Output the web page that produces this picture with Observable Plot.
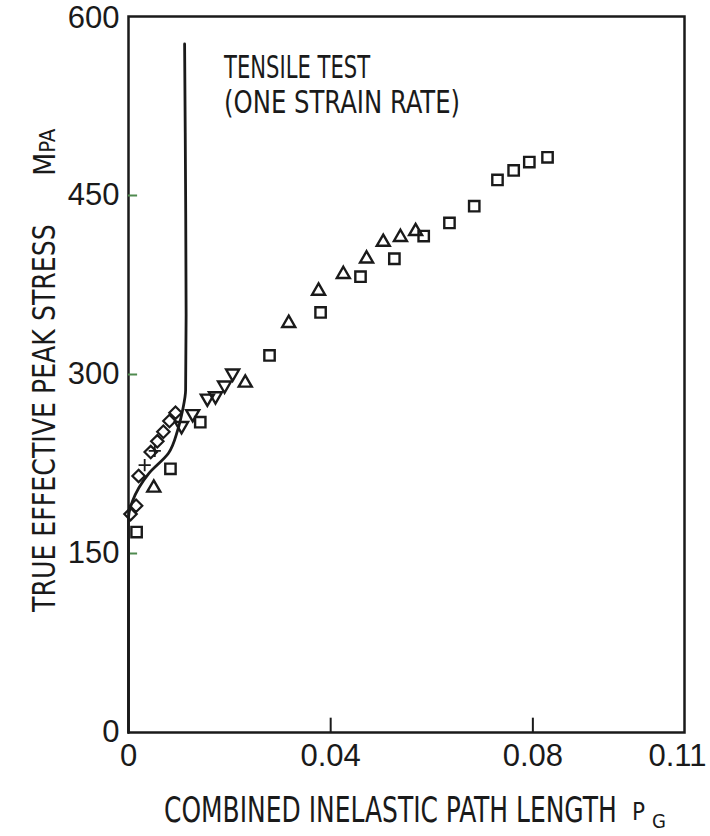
<!DOCTYPE html>
<html><head><meta charset="utf-8">
<script src="https://cdn.jsdelivr.net/npm/d3@7"></script>
<script src="https://cdn.jsdelivr.net/npm/@observablehq/plot@0.6"></script>
<style>body{margin:0;background:#fff}</style>
</head><body><div id="chart"></div>
<script>
// ---- data ----
const squares = [[0.0016,168],[0.0083,221],[0.0142,260],[0.0279,316],[0.038,352],[0.0459,382],[0.0526,397],[0.0584,416],[0.0635,427],[0.0684,441],[0.073,463],[0.0762,471],[0.0793,478],[0.0829,482]];
const triUp = [[0.005,205],[0.0231,293],[0.0317,343],[0.0376,370],[0.0425,384],[0.0471,397],[0.0504,411],[0.0538,415],[0.0568,420]];
const triDown = [[0.0105,257],[0.0127,267],[0.0156,280],[0.0172,282],[0.019,291],[0.0206,301]];
const diamonds = [[0.0004,183],[0.0015,190],[0.002,215],[0.0044,235],[0.0057,244],[0.0069,252],[0.0081,261],[0.0093,268]];
const pluses = [[0.0032,224],[0.0052,236]];
const tensile = [[0,0],[0,180],[0.0008,194],[0.004,217],[0.0079,234],[0.0097,253],[0.0107,270],[0.0113,287],[0.0114,350],[0.0113,450],[0.0111,577]];
const xTicks = [0,0.04,0.08,0.11];
const xTickLabels = ["0","0.04","0.08","0.11"];
const yTicks = [0,150,300,450,600];
const yInner = [150,300,450];
const xInner = [0.04,0.08];
const notes = [["TENSILE TEST",557],["(ONE STRAIN RATE)",528]];

const X = d => d[0], Y = d => d[1];
const ink = "#1a1a1a";
const chart = Plot.plot({
  width: 710, height: 836,
  marginLeft: 128, marginRight: 26, marginTop: 16, marginBottom: 104,
  x: {domain: [0, 0.11], label: null},
  y: {domain: [0, 600], label: null},
  style: {fontFamily: "'Liberation Sans', Arial, sans-serif", color: ink, background: "#fff"},
  marks: [
    Plot.frame({stroke: ink, strokeWidth: 2.5}),
    Plot.axisY(yTicks, {tickSize: 0, tickPadding: 9, fontSize: 31, tickFormat: d => String(d)}),
    Plot.axisX(xTicks, {tickSize: 0, tickPadding: 11, fontSize: 31, tickFormat: d => xTickLabels[xTicks.indexOf(d)]}),
    Plot.ruleY(yInner, {x1: 0, x2: 0.0018, stroke: "#4f8a4f", strokeWidth: 2}),
    Plot.ruleX(xInner, {y1: 0, y2: 12, stroke: ink, strokeWidth: 2}),
    Plot.line(tensile, {x: X, y: Y, stroke: ink, strokeWidth: 2.8, curve: "monotone-y"}),
    Plot.dot(squares, {x: X, y: Y, symbol: "square2", r: 6.6, stroke: ink, strokeWidth: 2.4}),
    Plot.dot(triUp, {x: X, y: Y, symbol: "triangle2", r: 6.2, stroke: ink, strokeWidth: 2.4}),
    Plot.dot(triDown, {x: X, y: Y, symbol: "triangle2", r: 6.2, rotate: 180, stroke: ink, strokeWidth: 2.4}),
    Plot.dot(diamonds, {x: X, y: Y, symbol: "diamond2", r: 5.6, stroke: ink, strokeWidth: 2.2}),
    Plot.dot(pluses, {x: X, y: Y, symbol: "plus", r: 4, stroke: ink, strokeWidth: 1.8}),
    Plot.text(notes, {x: () => 0.0189, y: d => d[1], text: d => d[0], textAnchor: "start", fontSize: 32,
      fontFamily: "'Liberation Sans Narrow', 'DejaVu Sans Condensed', sans-serif", fill: ink})
  ]
});
document.getElementById("chart").appendChild(chart);

const svg = d3.select(chart);
const narrow = "'Liberation Sans Narrow', 'DejaVu Sans Condensed', sans-serif";
svg.selectAll("text").filter(function(){ return this.textContent.startsWith("TENSILE"); })
  .attr("textLength", 146).attr("lengthAdjust", "spacingAndGlyphs");
svg.selectAll("text").filter(function(){ return this.textContent.startsWith("(ONE"); })
  .attr("textLength", 236).attr("lengthAdjust", "spacingAndGlyphs");
svg.selectAll("text").filter(function(){ return this.textContent === "0.11"; }).attr("dx", -7);
svg.selectAll("text").filter(function(){ return this.textContent === "600"; }).attr("dy", 2);

// x axis title, horizontally condensed with a scale transform
const fitText = (parent, x, y, size, s, width) => {
  const g = parent.append("g");
  const t = g.append("text").attr("font-family", narrow).attr("fill", ink).attr("text-anchor", "start")
    .attr("font-size", size).attr("x", 0).attr("y", 0).text(s);
  const w = t.node().getComputedTextLength() || width;
  g.attr("transform", `translate(${x},${y}) scale(${width / w},1)`);
  return g;
};
fitText(svg, 164, 822, 36, "COMBINED INELASTIC PATH LENGTH", 453);
const pg = svg.append("text").attr("font-family", narrow).attr("fill", ink).attr("text-anchor", "start");
pg.append("tspan").attr("x", 632).attr("y", 820).attr("font-size", 24).text("P");
pg.append("tspan").attr("x", 652).attr("y", 828).attr("font-size", 20).text("G");

// y axis title (rotated)
const yl = svg.append("g").attr("transform", "translate(55,612) rotate(-90)");
fitText(yl, 0, 0, 32, "TRUE EFFECTIVE PEAK STRESS", 388);
const mp = yl.append("text").attr("font-family", narrow).attr("fill", ink).attr("text-anchor", "start");
mp.append("tspan").attr("x", 436).attr("y", 0).attr("font-size", 30).text("M");
mp.append("tspan").attr("font-size", 22).text("PA");
</script>
</body></html>
